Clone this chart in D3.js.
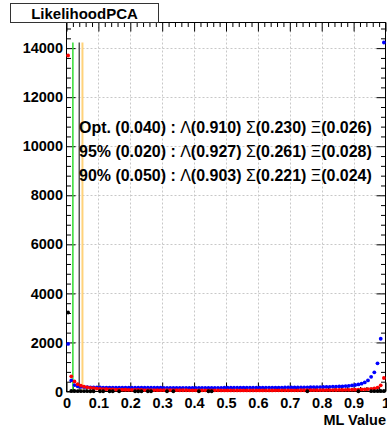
<!DOCTYPE html>
<html><head><meta charset="utf-8">
<script src="https://cdn.jsdelivr.net/npm/d3@7"></script>
<style>
html,body{margin:0;padding:0;background:#fff;}
svg{display:block;}
text{font-family:"Liberation Sans",Arial,Helvetica,sans-serif;font-weight:bold;}
</style></head>
<body>
<script>
// ---- data ----
const title = "LikelihoodPCA";
const xLabel = "ML Value";
const binWidth = 0.01;
const xTicks = [0,0.1,0.2,0.3,0.4,0.5,0.6,0.7,0.8,0.9,1];
const yTicks = [0,2000,4000,6000,8000,10000,12000,14000];
const yMax = 15045;
const red = [
13700,620,410,300,240,200,170,150,135,120,
110,100,95,90,85,80,78,75,72,70,
68,66,64,62,60,60,58,57,56,55,
55,54,53,52,52,51,50,50,49,49,
48,48,47,47,47,46,46,46,45,45,
45,45,44,44,44,44,44,44,44,44,
44,45,45,45,45,46,46,46,47,47,
48,48,49,50,50,51,52,53,54,55,
56,57,58,60,62,64,66,68,70,73,
76,80,85,90,100,110,125,160,250,550];
const blue = [
1940,450,260,210,190,180,175,170,168,165,
163,162,160,160,158,158,157,156,156,155,
155,154,154,153,153,153,152,152,152,152,
151,151,151,151,150,150,150,150,150,150,
150,150,150,150,150,151,151,151,151,152,
152,152,153,153,153,154,154,155,155,156,
156,157,158,158,159,160,161,162,163,164,
165,166,167,168,170,172,174,176,178,180,
183,186,190,195,200,206,213,222,233,248,
265,290,320,370,450,600,780,1150,2150,14230];
const blackBins = [0,1,2,3,4,5,6,7,8,10,11,13,14,16,21,22,23,25,26,31,33,41,44,45,75,91,95,96,97,98,99];
const blackVals = [3220,20,20,15,15,15,15,10,10,10,10,10,10,10,10,10,10,10,10,10,10,10,10,10,10,10,15,15,20,20,20];
const cuts = [
  {name:"95%", cut:0.020, color:"#33dd33"},
  {name:"Opt.", cut:0.040, color:"#555555"},
  {name:"90%", cut:0.050, color:"#ffd27a"}
];
const cutTop = 14230;
const annot = [
  ["Opt. (0.040) : ", "Λ", "(0.910) ", "Σ", "(0.230) ", "Ξ", "(0.026)"],
  ["95% (0.020) : ", "Λ", "(0.927) ", "Σ", "(0.261) ", "Ξ", "(0.028)"],
  ["90% (0.050) : ", "Λ", "(0.903) ", "Σ", "(0.221) ", "Ξ", "(0.024)"]
];

// ---- chart ----
const W = 387, H = 430;
const svg = d3.select("body").append("svg").attr("width", W).attr("height", H);
const x = d3.scaleLinear().domain([0,1]).range([66.5,385.5]);
const y = d3.scaleLinear().domain([0,yMax]).range([391.5,22.5]);

// grid
const grid = svg.append("g").attr("stroke","#c8c8c8").attr("stroke-dasharray","2,2").attr("stroke-width",1);
grid.selectAll(".gx").data(xTicks.filter(d=>d>0&&d<1)).join("line")
  .attr("x1",d=>Math.round(x(d))+0.5).attr("x2",d=>Math.round(x(d))+0.5)
  .attr("y1",y(yMax)).attr("y2",y(0));
grid.selectAll(".gy").data(yTicks.filter(d=>d>0)).join("line")
  .attr("y1",d=>Math.round(y(d))+0.5).attr("y2",d=>Math.round(y(d))+0.5)
  .attr("x1",x(0)).attr("x2",x(1));

// minor tick values
const xMinor = d3.range(0,51).map(i=>i*0.02).filter(v=>Math.abs(v*10-Math.round(v*10))>1e-6);
const yMinor = d3.range(0,38).map(i=>i*400).filter(v=>v%2000!==0 && v<=yMax);

function clean(g){ g.select(".domain").remove(); g.selectAll("line").attr("stroke","#000"); }

// bottom axis
svg.append("g").attr("transform",`translate(0,${y(0)})`)
  .call(d3.axisBottom(x).tickValues(xTicks).tickSizeInner(-9).tickSizeOuter(0).tickPadding(6)
    .tickFormat(d=>d===0?"0":d===1?"1":d3.format(".1f")(d)))
  .call(clean)
  .call(g=>g.selectAll("text").attr("font-size","14.5px").attr("fill","#000"));
svg.append("g").attr("transform",`translate(0,${y(0)})`)
  .call(d3.axisBottom(x).tickValues(xMinor).tickSizeInner(-4.5).tickSizeOuter(0).tickFormat(""))
  .call(clean);
// top axis
svg.append("g").attr("transform",`translate(0,${y(yMax)})`)
  .call(d3.axisTop(x).tickValues(xTicks).tickSizeInner(-9).tickSizeOuter(0).tickFormat(""))
  .call(clean);
svg.append("g").attr("transform",`translate(0,${y(yMax)})`)
  .call(d3.axisTop(x).tickValues(xMinor).tickSizeInner(-4.5).tickSizeOuter(0).tickFormat(""))
  .call(clean);
// left axis
svg.append("g").attr("transform",`translate(${x(0)},0)`)
  .call(d3.axisLeft(y).tickValues(yTicks).tickSizeInner(-9).tickSizeOuter(0).tickPadding(3.5).tickFormat(d3.format("d")))
  .call(clean)
  .call(g=>g.selectAll("text").attr("font-size","14.5px").attr("fill","#000"));
svg.append("g").attr("transform",`translate(${x(0)},0)`)
  .call(d3.axisLeft(y).tickValues(yMinor).tickSizeInner(-4.5).tickSizeOuter(0).tickFormat(""))
  .call(clean);
// right axis
svg.append("g").attr("transform",`translate(${x(1)},0)`)
  .call(d3.axisRight(y).tickValues(yTicks).tickSizeInner(-9).tickSizeOuter(0).tickFormat(""))
  .call(clean);
svg.append("g").attr("transform",`translate(${x(1)},0)`)
  .call(d3.axisRight(y).tickValues(yMinor).tickSizeInner(-4.5).tickSizeOuter(0).tickFormat(""))
  .call(clean);

// frame
svg.append("rect").attr("x",x(0)).attr("y",y(yMax)).attr("width",x(1)-x(0)).attr("height",y(0)-y(yMax))
  .attr("fill","none").attr("stroke","#000").attr("stroke-width",1);

// cut lines
svg.append("g").selectAll("line").data(cuts).join("line")
  .attr("x1",d=>x(d.cut)).attr("x2",d=>x(d.cut))
  .attr("y1",y(0)).attr("y2",y(cutTop))
  .attr("stroke",d=>d.color).attr("stroke-width",d=>d.name==="90%"?2:1.5);

// points
const binCenter = i => x((i+0.5)*binWidth);
const r = 1.9;
svg.append("g").attr("fill","#0000ff").selectAll("circle").data(blue).join("circle")
  .attr("cx",(d,i)=>binCenter(i)).attr("cy",d=>y(d)).attr("r",r);
svg.append("g").attr("fill","#ff0000").selectAll("circle").data(red).join("circle")
  .attr("cx",(d,i)=>binCenter(i)).attr("cy",d=>y(d)).attr("r",r);
svg.append("g").attr("fill","#000").selectAll("circle").data(blackBins).join("circle")
  .attr("cx",d=>binCenter(d)).attr("cy",(d,i)=>y(blackVals[i])).attr("r",r);

// annotations
const rowsY = [127,151,175];
const at = svg.append("g");
annot.forEach((parts,k)=>{
  const t = at.append("text").attr("x",79).attr("y",rowsY[k]).attr("dy","0.35em")
    .attr("font-size","13px").attr("fill","#000");
  parts.forEach((p,j)=>{
    t.append("tspan").text(p).attr("font-weight", (j%2===1)?"normal":"bold");
  });
  const w = t.node().getComputedTextLength();
  t.attr("font-size", (13*293/w).toFixed(2)+"px");
});

// x label
svg.append("text").attr("x",386).attr("y",424.5).attr("text-anchor","end")
  .attr("font-size","14.5px").attr("fill","#000").text(xLabel);

// title box
svg.append("rect").attr("x",10.5).attr("y",3.5).attr("width",148).attr("height",19)
  .attr("fill","#fff").attr("stroke","#333").attr("stroke-width",1);
svg.append("text").attr("x",84.5).attr("y",19).attr("text-anchor","middle")
  .attr("font-size","15px").attr("fill","#000").text(title);
</script>
</body></html>
